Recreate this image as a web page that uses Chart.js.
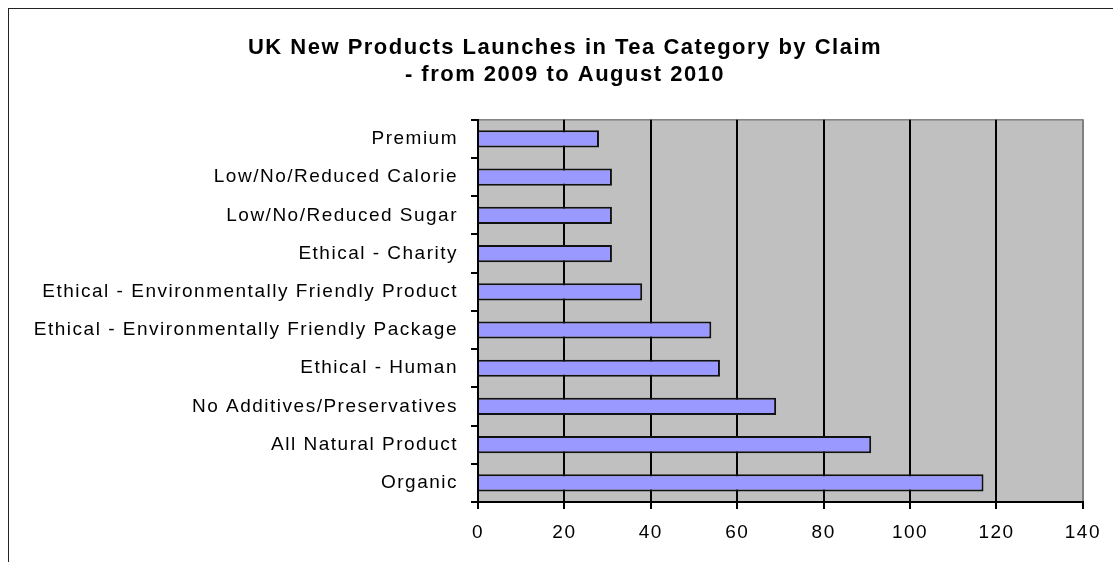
<!DOCTYPE html>
<html lang="en">
<head>
    <meta charset="UTF-8">
    <title>UK New Products Launches in Tea Category by Claim</title>
    <script src="https://cdn.jsdelivr.net/npm/chart.js"></script>
    <style>
        body {
            margin: 0;
            background: #fff;
            overflow: hidden;
        }
        #frame {
            position: absolute;
            left: 8px;
            top: 8px;
            width: 1200px;
            height: 700px;
            border: 1px solid #222;
        }
        #chartContainer {
            position: absolute;
            left: 0;
            top: 0;
            width: 1113px;
            height: 562px;
        }
    </style>
</head>
<body>
    <div id="frame"></div>
    <div id="chartContainer">
        <canvas id="teaChart"></canvas>
    </div>

    <script>
        // data
        const claims = [
            'Premium',
            'Low/No/Reduced Calorie',
            'Low/No/Reduced Sugar',
            'Ethical - Charity',
            'Ethical - Environmentally Friendly Product',
            'Ethical - Environmentally Friendly Package',
            'Ethical - Human',
            'No Additives/Preservatives',
            'All Natural Product',
            'Organic'
        ];
        const launches = [28, 31, 31, 31, 38, 54, 56, 69, 91, 117];
        const titleLines = ['UK New Products Launches in Tea Category by Claim', '- from 2009 to August 2010'];
        const xMin = 0, xMax = 140, xStep = 20;

        // old excel look: wide letter spacing + grey plot area
        const plotLook = {
            id: 'plotLook',
            beforeUpdate(chart) { chart.ctx.letterSpacing = '1.5px'; },
            beforeDraw(chart) {
                const c = chart.ctx, a = chart.chartArea;
                c.letterSpacing = '1.5px';
                c.save();
                c.fillStyle = '#c0c0c0';
                c.fillRect(a.left, a.top, a.right - a.left, a.bottom - a.top);
                c.strokeStyle = '#808080';
                c.lineWidth = 1.5;
                c.strokeRect(a.left, a.top, a.right - a.left, a.bottom - a.top);
                c.restore();
            }
        };

        Chart.defaults.font.family = "'Liberation Sans', Arial, sans-serif";
        Chart.defaults.color = '#000';

        const ctx = document.getElementById('teaChart').getContext('2d');
        new Chart(ctx, {
            type: 'bar',
            data: {
                labels: claims,
                datasets: [{
                    data: launches,
                    backgroundColor: '#9999ff',
                    borderColor: '#111',
                    borderWidth: 2,
                    categoryPercentage: 1,
                    barPercentage: 0.45
                }]
            },
            plugins: [plotLook],
            options: {
                indexAxis: 'y',
                responsive: true,
                maintainAspectRatio: false,
                animation: false,
                layout: { padding: { left: 20, right: 3, top: 0, bottom: 0 } },
                plugins: {
                    legend: { display: false },
                    tooltip: { enabled: false },
                    title: {
                        display: true,
                        text: titleLines,
                        font: { size: 22, weight: 'bold' },
                        padding: { top: 35, bottom: 32 }
                    }
                },
                scales: {
                    x: {
                        min: xMin,
                        max: xMax,
                        ticks: { stepSize: xStep, font: { size: 19 }, padding: 12 },
                        grid: {
                            color: c => c.index === 7 ? '#808080' : '#000',
                            tickColor: '#000',
                            lineWidth: 2,
                            tickLength: 7
                        },
                        border: { color: '#000', width: 2 },
                        afterFit(s) { s.height = 60; }
                    },
                    y: {
                        ticks: { font: { size: 19 }, padding: 13, autoSkip: false },
                        grid: {
                            drawOnChartArea: false,
                            color: '#000',
                            lineWidth: 2,
                            tickLength: 7
                        },
                        border: { color: '#000', width: 2 },
                        afterFit(s) { s.width = 458; }
                    },
                    // empty strip on the right so the title centres like the original
                    yPad: {
                        position: 'right',
                        ticks: { display: false },
                        grid: { display: false },
                        border: { display: false },
                        afterFit(s) { s.width = 26; }
                    }
                }
            }
        });
    </script>
</body>
</html>
